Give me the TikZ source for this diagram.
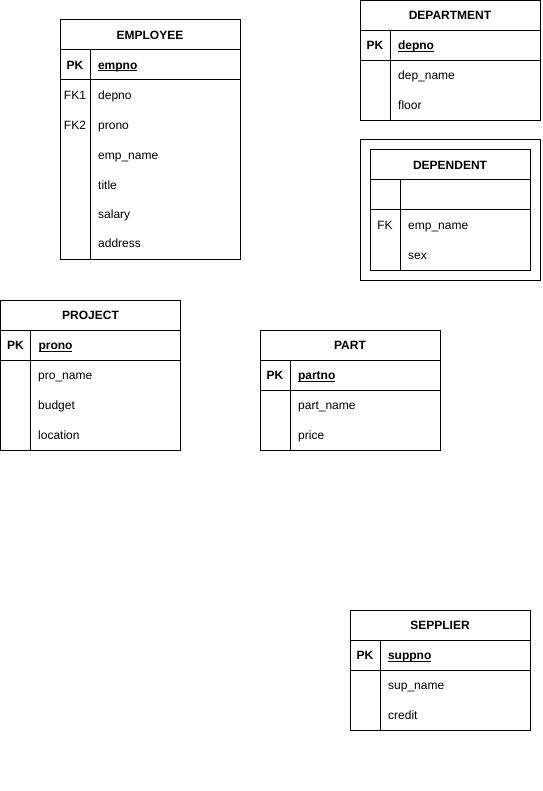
\documentclass[tikz,border=0pt]{standalone}
\usepackage{fontspec}
\setmainfont{Liberation Sans}
\usetikzlibrary{positioning}
\newcommand{\erfont}{\fontsize{12}{14}\selectfont}
\newcommand{\keyname}[1]{\underline{\smash{#1}}}
\tikzstyle{cell} = [rectangle, draw=black, line width=1pt, inner sep=0pt,
outer sep=0pt, text height=8.6pt, text depth=0pt, font=\erfont]
\tikzstyle{header} = [cell, minimum width=180pt, minimum height=30pt,
font=\erfont\bfseries]
\tikzstyle{keybox} = [cell, minimum width=30pt, minimum height=30pt,
font=\erfont\bfseries]
\tikzstyle{keyfield} = [cell, minimum width=150pt, minimum height=30pt,
text width=134pt, inner xsep=8pt, align=left, font=\erfont\bfseries]
\tikzstyle{keycol} = [cell, minimum width=30pt]
\tikzstyle{fieldcol} = [cell, minimum width=150pt]
\tikzstyle{attr} = [anchor=west, inner sep=0pt, text height=8.6pt,
text depth=0pt, font=\erfont]
\tikzstyle{fk} = [inner sep=0pt, text height=8.6pt, text depth=0pt, font=\erfont]

\begin{document}
\begin{tikzpicture}[x=1pt, y=-1pt]
\useasboundingbox (0,0) rectangle (542,791);

% EMPLOYEE
\node(emphead)[header, anchor=north west] at (60,20){EMPLOYEE};
\node(emppk)[keybox, below right=0pt and 0pt of emphead.south west]{PK};
\node(empkey)[keyfield, right=0pt of emppk]{\keyname{empno}};
\node(empkeycol)[keycol, minimum height=180pt, below right=0pt and 0pt of
emppk.south west]{};
\node(empcol)[fieldcol, minimum height=180pt, below right=0pt and 0pt of
empkey.south west]{};
\node(empfka)[fk] at (75,95){FK1};
\node(empfkb)[fk] at (75,125){FK2};
\node(empdepno)[attr] at (98,95){depno};
\node(empprono)[attr] at (98,125){prono};
\node(empname)[attr] at (98,155){emp\_name};
\node(emptitle)[attr] at (98,185){title};
\node(empsalary)[attr] at (98,214){salary};
\node(empaddress)[attr] at (98,243){address};

% DEPARTMENT
\node(dephead)[header, anchor=north west] at (360,0.5){DEPARTMENT};
\node(deppk)[keybox, below right=0pt and 0pt of dephead.south west]{PK};
\node(depkey)[keyfield, right=0pt of deppk]{\keyname{depno}};
\node(depkeycol)[keycol, minimum height=60pt, below right=0pt and 0pt of
deppk.south west]{};
\node(depcol)[fieldcol, minimum height=60pt, below right=0pt and 0pt of
depkey.south west]{};
\node(depname)[attr] at (398,75){dep\_name};
\node(depfloor)[attr] at (398,105){floor};

% DEPENDENT
\node(dntframe)[cell, minimum width=180pt, minimum height=140pt,
anchor=north west] at (360,140){};
\node(dnthead)[header, minimum width=160pt, anchor=north west] at
(370,150){DEPENDENT};
\node(dntpk)[keybox, below right=0pt and 0pt of dnthead.south west]{};
\node(dntkey)[keyfield, minimum width=130pt, text width=114pt, right=0pt of
dntpk]{};
\node(dntkeycol)[keycol, minimum height=60pt, below right=0pt and 0pt of
dntpk.south west]{};
\node(dntcol)[fieldcol, minimum width=130pt, minimum height=60pt, below
right=0pt and 0pt of dntkey.south west]{};
\node(dntfk)[fk] at (385,225){FK};
\node(dntname)[attr] at (408,225){emp\_name};
\node(dntsex)[attr] at (408,255){sex};

% PROJECT
\node(prohead)[header, anchor=north west] at (0.5,300){PROJECT};
\node(propk)[keybox, below right=0pt and 0pt of prohead.south west]{PK};
\node(prokey)[keyfield, right=0pt of propk]{\keyname{prono}};
\node(prokeycol)[keycol, minimum height=90pt, below right=0pt and 0pt of
propk.south west]{};
\node(procol)[fieldcol, minimum height=90pt, below right=0pt and 0pt of
prokey.south west]{};
\node(proname)[attr] at (38,375){pro\_name};
\node(probudget)[attr] at (38,405){budget};
\node(prolocation)[attr] at (38,435){location};

% PART
\node(parthead)[header, anchor=north west] at (260,330){PART};
\node(partpk)[keybox, below right=0pt and 0pt of parthead.south west]{PK};
\node(partkey)[keyfield, right=0pt of partpk]{\keyname{partno}};
\node(partkeycol)[keycol, minimum height=60pt, below right=0pt and 0pt of
partpk.south west]{};
\node(partcol)[fieldcol, minimum height=60pt, below right=0pt and 0pt of
partkey.south west]{};
\node(partname)[attr] at (298,405){part\_name};
\node(partprice)[attr] at (298,435){price};

% SEPPLIER
\node(suphead)[header, anchor=north west] at (350,610){SEPPLIER};
\node(suppk)[keybox, below right=0pt and 0pt of suphead.south west]{PK};
\node(supkey)[keyfield, right=0pt of suppk]{\keyname{suppno}};
\node(supkeycol)[keycol, minimum height=60pt, below right=0pt and 0pt of
suppk.south west]{};
\node(supcol)[fieldcol, minimum height=60pt, below right=0pt and 0pt of
supkey.south west]{};
\node(supname)[attr] at (388,685){sup\_name};
\node(supcredit)[attr] at (388,715){credit};

\end{tikzpicture}
\end{document}
